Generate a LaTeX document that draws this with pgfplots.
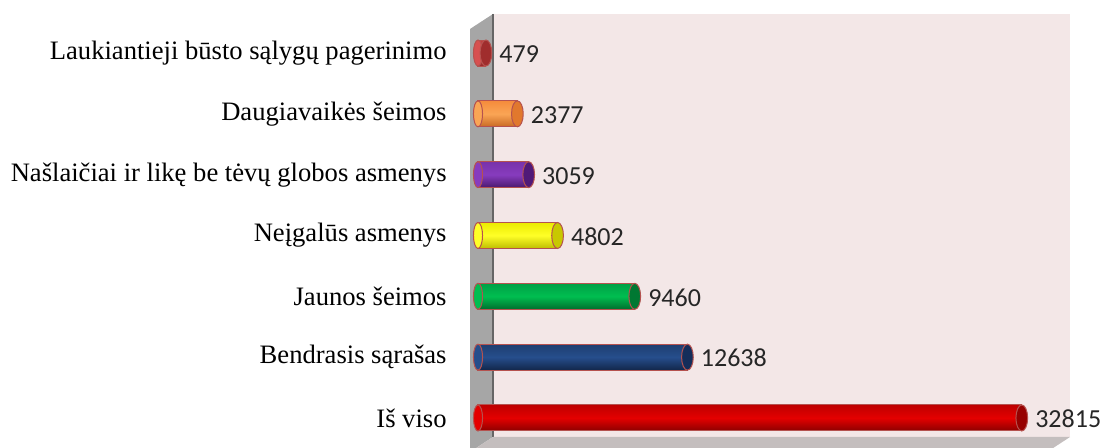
\documentclass[border=0pt]{standalone}
\usepackage{fontspec}
\setmainfont{Liberation Serif}
\newfontfamily\calibri{Carlito}
\usepackage{pgfplots}
\pgfplotsset{compat=1.18}
\definecolor{wallpink}{RGB}{243,231,231}
\definecolor{sidegray}{RGB}{166,166,166}
\definecolor{floorgray}{RGB}{196,190,190}
\definecolor{edge}{RGB}{181,82,79}
\definecolor{lbl}{RGB}{38,38,38}
% bar colours: top, middle, bottom, cap
\definecolor{rT}{RGB}{190,0,0}\definecolor{rM}{RGB}{228,0,0}\definecolor{rB}{RGB}{140,0,0}\definecolor{rC}{RGB}{150,0,0}
\definecolor{bT}{RGB}{30,62,112}\definecolor{bM}{RGB}{38,78,140}\definecolor{bB}{RGB}{18,38,74}\definecolor{bC}{RGB}{20,45,90}
\definecolor{gT}{RGB}{0,160,70}\definecolor{gM}{RGB}{0,190,80}\definecolor{gB}{RGB}{0,110,45}\definecolor{gC}{RGB}{0,120,50}
\definecolor{yT}{RGB}{235,235,0}\definecolor{yM}{RGB}{255,255,40}\definecolor{yB}{RGB}{190,190,0}\definecolor{yC}{RGB}{200,200,0}
\definecolor{pT}{RGB}{120,50,170}\definecolor{pM}{RGB}{135,60,190}\definecolor{pB}{RGB}{75,25,110}\definecolor{pC}{RGB}{80,25,120}
\definecolor{oT}{RGB}{245,140,60}\definecolor{oM}{RGB}{250,165,85}\definecolor{oB}{RGB}{200,105,35}\definecolor{oC}{RGB}{225,120,45}
\definecolor{dT}{RGB}{190,60,60}\definecolor{dM}{RGB}{215,80,80}\definecolor{dB}{RGB}{150,40,40}\definecolor{dC}{RGB}{160,45,45}
\pgfplotsset{
  cyl/.style={xbar, bar width=13pt, bar shift=0pt, draw=edge, line width=0.5pt,
    top color=#1T, bottom color=#1B, middle color=#1M,
    nodes near coords,
    nodes near coords style={font=\calibri\fontsize{13}{14}\selectfont, text=lbl, anchor=west, inner sep=0pt, xshift=6.5pt, yshift=-0.5pt,
      /pgf/number format/1000 sep={}, /pgf/number format/assume math mode=true}},
  cap/.style={only marks, mark=*, mark size=6.5pt, mark options={xscale=0.45, fill=#1C, draw=edge, line width=0.5pt}},
  lcap/.style={only marks, mark=*, mark size=6.5pt, mark options={xscale=0.35, fill=#1M, draw=edge, line width=0.5pt}},
}
\begin{document}
\begin{tikzpicture}
\useasboundingbox (0,0) rectangle (552pt,-224pt);
% 3D walls (decoration)
\fill[wallpink] (246.5pt,-7pt) rectangle (535pt,-218.5pt);
\fill[sidegray] (235pt,-14.5pt) -- (246.5pt,-7pt) -- (246.5pt,-218.5pt) -- (235pt,-226pt) -- cycle;
\draw[gray!80!black, line width=0.6pt] (246.5pt,-7pt) -- (246.5pt,-218.5pt);
\fill[floorgray] (235pt,-226pt) -- (246.5pt,-218.5pt) -- (535pt,-218.5pt) -- (523.5pt,-226pt) -- cycle;
\begin{axis}[
  at={(239pt,-222.25pt)}, anchor=south west,
  scale only axis, width=290pt, height=211.5pt,
  xmin=0, xmax=35000, ymin=-0.436, ymax=6.518,
  axis line style={draw=none},
  xtick=\empty,
  ytick={0,1,2,3,4,5,6},
  yticklabels={Iš viso, Bendrasis sąrašas, Jaunos šeimos, Neįgalūs asmenys, Našlaičiai ir likę be tėvų globos asmenys, Daugiavaikės šeimos, Laukiantieji būsto sąlygų pagerinimo},
  ytick style={draw=none},
  major tick length=0pt,
  yticklabel style={font=\fontsize{13.3}{15}\selectfont, anchor=east, inner sep=0pt, xshift=-15.5pt},
  clip=false,
]
% rounded starts
\addplot[lcap=r] coordinates {(0,0)};
\addplot[lcap=b] coordinates {(0,1)};
\addplot[lcap=g] coordinates {(0,2)};
\addplot[lcap=y] coordinates {(0,3)};
\addplot[lcap=p] coordinates {(0,4)};
\addplot[lcap=o] coordinates {(0,5)};
\addplot[lcap=d] coordinates {(0,6)};
% bars
\addplot[cyl=r] coordinates {(32815,0)};
\addplot[cyl=b] coordinates {(12638,1)};
\addplot[cyl=g] coordinates {(9460,2)};
\addplot[cyl=y] coordinates {(4802,3)};
\addplot[cyl=p] coordinates {(3059,4)};
\addplot[cyl=o] coordinates {(2377,5)};
\addplot[cyl=d] coordinates {(479,6)};
% end caps
\addplot[cap=r] coordinates {(32815,0)};
\addplot[cap=b] coordinates {(12638,1)};
\addplot[cap=g] coordinates {(9460,2)};
\addplot[cap=y] coordinates {(4802,3)};
\addplot[cap=p] coordinates {(3059,4)};
\addplot[cap=o] coordinates {(2377,5)};
\addplot[cap=d] coordinates {(479,6)};
\end{axis}
\end{tikzpicture}
\end{document}
